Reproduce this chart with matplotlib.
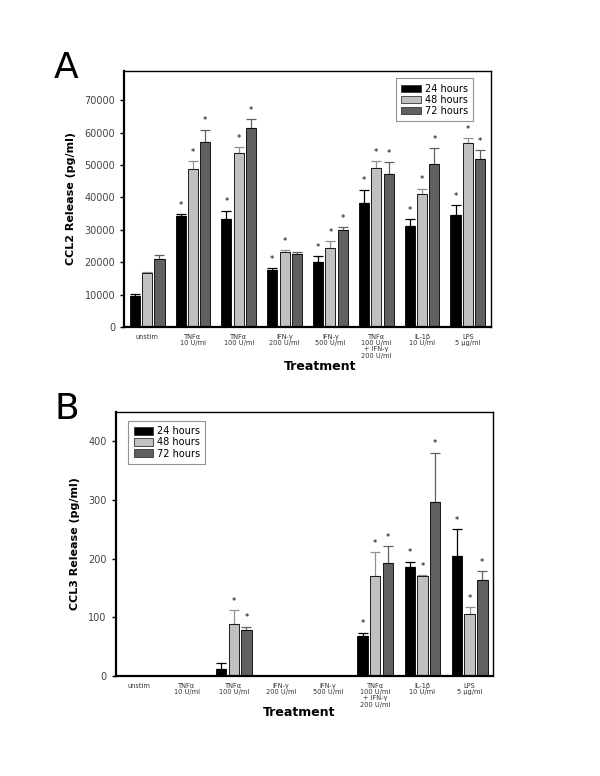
import numpy as np
import matplotlib
matplotlib.use("Agg")
import matplotlib.pyplot as plt
from matplotlib.patches import Patch

# categories
labels = ["unstim", "TNF\u03b1\n10 U/ml", "TNF\u03b1\n100 U/ml", "IFN-\u03b3\n200 U/ml",
          "IFN-\u03b3\n500 U/ml", "TNF\u03b1\n100 U/ml\n+ IFN-\u03b3\n200 U/ml",
          "IL-1\u03b2\n10 U/ml", "LPS\n5 \u03bcg/ml"]
series = ["24 hours", "48 hours", "72 hours"]

# panel A, CCL2 (pg/ml)
ccl2_24 = [9700, 34200, 33200, 17600, 20200, 38400, 31300, 34600]
ccl2_48 = [16800, 48600, 53600, 23200, 24500, 49000, 41100, 56900]
ccl2_72 = [20900, 57100, 61500, 22600, 29800, 47300, 50400, 51800]
ccl2_24_err = [500, 700, 2700, 600, 1800, 4000, 2100, 3100]
ccl2_48_err = [200, 2700, 1800, 600, 2000, 2100, 1600, 1500]
ccl2_72_err = [1400, 3800, 2700, 600, 900, 3600, 4700, 2900]
ccl2_sig = [[0, 1, 1, 1, 1, 1, 1, 1],
            [0, 1, 1, 1, 1, 1, 1, 1],
            [0, 1, 1, 0, 1, 1, 1, 1]]

# panel B, CCL3 (pg/ml)
ccl3_24 = [0, 0, 11, 0, 0, 68, 185, 204]
ccl3_48 = [0, 0, 88, 0, 0, 170, 171, 105]
ccl3_72 = [0, 0, 78, 0, 0, 192, 296, 163]
ccl3_24_err = [0, 0, 11, 0, 0, 6, 10, 47]
ccl3_48_err = [0, 0, 24, 0, 0, 41, 1, 12]
ccl3_72_err = [0, 0, 6, 0, 0, 30, 85, 16]
ccl3_sig = [[0, 0, 0, 0, 0, 1, 1, 1],
            [0, 0, 1, 0, 0, 1, 1, 1],
            [0, 0, 1, 0, 0, 1, 1, 1]]

colors = ["#000000", "#c0c0c0", "#606060"]
err_colors = ["#000000", "#909090", "#606060"]


def draw_panel(ax, vals, errs, sig, ymax, yticks, ylabel, legend_loc, legend_anchor,
               xlab_pos):
    x = np.arange(len(labels))
    w = 0.22
    offs = [-0.27, 0, 0.27]
    for i in range(3):
        v = np.array(vals[i], dtype=float)
        e = np.array(errs[i], dtype=float)
        ax.bar(x + offs[i], v, w, color=colors[i], edgecolor="black", linewidth=0.6,
               label=series[i], zorder=2)
        has = v > 0
        ax.errorbar(x[has] + offs[i], v[has], yerr=[np.zeros(has.sum()), e[has]],
                    fmt="none", ecolor=err_colors[i], elinewidth=0.9, capsize=3.5,
                    capthick=0.9, zorder=1)
        for j in range(len(x)):
            if sig[i][j]:
                ax.annotate("*", (x[j] + offs[i], v[j] + e[j]), xytext=(0, 3),
                            textcoords="offset points", ha="center", va="bottom",
                            fontsize=6)
    ax.set_xlim(-0.5, len(labels) - 0.5)
    ax.set_ylim(0, ymax)
    ax.set_yticks(yticks)
    ax.set_xticks(x)
    ax.set_xticklabels(labels, fontsize=4.8, color="#333333", linespacing=1.05)
    ax.tick_params(axis="x", length=0, pad=5)
    ax.tick_params(axis="y", labelsize=7, labelcolor="#444444", length=3, width=1)
    ax.set_ylabel(ylabel, fontsize=8, fontweight="bold", labelpad=6)
    ax.set_xlabel("Treatment", fontsize=9, fontweight="bold")
    ax.xaxis.set_label_coords(*xlab_pos)
    ax.xaxis.label.set_va("center")
    for s in ["left", "bottom"]:
        ax.spines[s].set_linewidth(1.6)
    for s in ["top", "right"]:
        ax.spines[s].set_linewidth(1.0)
    handles = [Patch(facecolor=colors[i], edgecolor="#333333", linewidth=0.6,
                     label=series[i]) for i in range(3)]
    leg = ax.legend(handles=handles, loc=legend_loc, bbox_to_anchor=legend_anchor,
                    fontsize=7, frameon=True, fancybox=False, handlelength=2.0,
                    handleheight=0.8, labelspacing=0.12, borderpad=0.55,
                    handletextpad=0.4)
    leg.get_frame().set_edgecolor("#777777")
    leg.get_frame().set_linewidth(0.8)


fig = plt.figure(figsize=(6, 7.76), dpi=100)

axA = fig.add_axes([0.207, 0.5786, 0.611, 0.33])
draw_panel(axA, [ccl2_24, ccl2_48, ccl2_72], [ccl2_24_err, ccl2_48_err, ccl2_72_err],
           ccl2_sig, 79000, np.arange(0, 70001, 10000), "CCL2 Release (pg/ml)",
           "upper right", (0.965, 0.99), (0.534, -0.156))

axB = fig.add_axes([0.193, 0.129, 0.629, 0.34])
draw_panel(axB, [ccl3_24, ccl3_48, ccl3_72], [ccl3_24_err, ccl3_48_err, ccl3_72_err],
           ccl3_sig, 450, np.arange(0, 401, 100), "CCL3 Release (pg/ml)",
           "upper left", (0.02, 0.985), (0.485, -0.140))

fig.text(0.11, 0.912, "A", fontsize=26, ha="center", va="center")
fig.text(0.112, 0.473, "B", fontsize=26, ha="center", va="center")

fig.savefig("out.png", dpi=100)
